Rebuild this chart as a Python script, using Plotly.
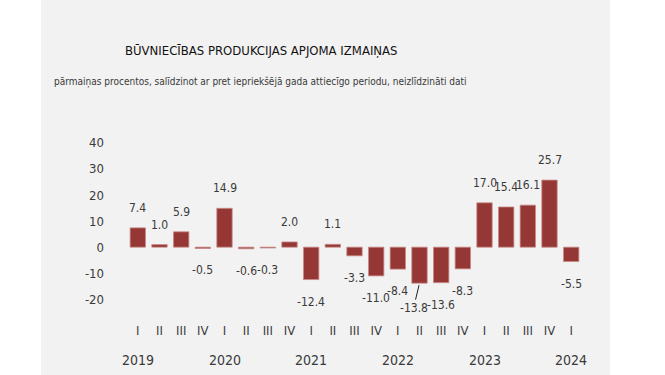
import plotly.graph_objects as go

quarters = ["I", "II", "III", "IV", "I", "II", "III", "IV", "I", "II", "III", "IV",
            "I", "II", "III", "IV", "I", "II", "III", "IV", "I"]
years = ["2019", "2020", "2021", "2022", "2023", "2024"]
values = [7.4, 1.0, 5.9, -0.5, 14.9, -0.6, -0.3, 2.0, -12.4, 1.1, -3.3, -11.0,
          -8.4, -13.8, -13.6, -8.3, 17.0, 15.4, 16.1, 25.7, -5.5]
y_ticks = [-20, -10, 0, 10, 20, 30, 40]
title = "BŪVNIECĪBAS PRODUKCIJAS APJOMA IZMAIŅAS"
subtitle = "pārmaiņas procentos, salīdzinot ar pret iepriekšējā gada attiecīgo periodu, neizlīdzināti dati"

W, H = 665, 375
ML, MR, MT, MB = 127, 83, 130, 55
PW, PH = W - ML - MR, H - MT - MB

def px_x(px):
    return (px - ML) / PW

def px_y(py):
    return (H - MB - py) / PH

FONT = "DejaVu Sans Condensed, Liberation Sans Narrow, Roboto, sans-serif"
TXT = "#3a3a3a"
BAR = "#953735"

xs = list(range(len(values)))

fig = go.Figure()
fig.add_trace(go.Bar(
    x=xs, y=values,
    marker=dict(color=BAR, line=dict(color="#c98a88", width=0.8)),
    hoverinfo="skip",
))

annotations = []
for i, v in enumerate(values):
    lab = f"{v:.1f}"
    if v == min(values):
        annotations.append(dict(
            x=i, y=v, text=lab, showarrow=True, arrowhead=0, arrowwidth=1,
            arrowcolor="#222222", ax=-6, ay=25, standoff=2,
            font=dict(family=FONT, size=12, color=TXT)))
    else:
        annotations.append(dict(
            x=i, y=v, text=lab, showarrow=False, yanchor="middle",
            yshift=20 if v >= 0 else -22,
            font=dict(family=FONT, size=12, color=TXT)))

# year labels under the first quarter of each year
yi = 0
for i, q in enumerate(quarters):
    if q == "I":
        annotations.append(dict(
            x=i, xref="x", y=px_y(360), yref="paper", text=years[yi],
            showarrow=False, yanchor="middle",
            font=dict(family=FONT, size=14, color=TXT)))
        yi += 1

annotations.append(dict(
    x=px_x(261), y=px_y(50), xref="paper", yref="paper", text=title,
    showarrow=False, xanchor="center", yanchor="middle",
    font=dict(family=FONT, size=13, color="#111111")))
annotations.append(dict(
    x=px_x(260), y=px_y(82), xref="paper", yref="paper", text=subtitle,
    showarrow=False, xanchor="center", yanchor="middle",
    font=dict(family=FONT, size=10, color=TXT)))

fig.add_shape(type="rect", xref="paper", yref="paper",
              x0=px_x(41), x1=px_x(610), y0=px_y(H), y1=px_y(0),
              fillcolor="#f2f2f2", line=dict(width=0), layer="below")

fig.update_layout(
    width=W, height=H,
    margin=dict(l=ML, r=MR, t=MT, b=MB, pad=0),
    paper_bgcolor="white", plot_bgcolor="rgba(0,0,0,0)",
    showlegend=False, bargap=0.29,
    annotations=annotations,
    font=dict(family=FONT, color=TXT),
)
fig.update_xaxes(
    tickmode="array", tickvals=xs, ticktext=quarters,
    range=[-0.5, len(values) - 0.5], showgrid=False, zeroline=False,
    showline=False, ticks="", tickfont=dict(family=FONT, size=13, color=TXT),
    ticklabelstandoff=1,
)
fig.update_yaxes(
    tickmode="array", tickvals=y_ticks, ticktext=[str(t) for t in y_ticks],
    range=[-27.9, 44.9], showgrid=False, zeroline=False, showline=False,
    ticks="", tickfont=dict(family=FONT, size=13, color=TXT),
    ticklabelstandoff=22,
)

fig.write_html("out.html", config={"displayModeBar": False},
               post_script="document.body.style.margin='0';document.body.style.overflow='hidden';")
